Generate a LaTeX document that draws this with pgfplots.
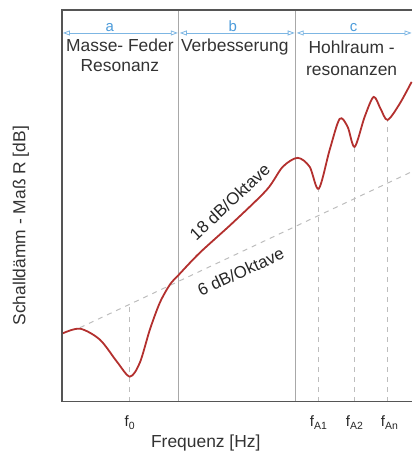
\documentclass[border=0pt]{standalone}
\usepackage{fontspec}
\setmainfont{Liberation Sans}
\usepackage{pgfplots}
\pgfplotsset{compat=1.18}
\usetikzlibrary{arrows.meta}

\definecolor{curvered}{HTML}{B3302E}
\definecolor{framegray}{HTML}{555555}
\definecolor{sepgray}{HTML}{A8A8A8}
\definecolor{dashgray}{HTML}{BDBDBD}
\definecolor{arrowblue}{HTML}{7DB6E3}
\definecolor{letterblue}{HTML}{4C9BDA}

\begin{document}
\begin{tikzpicture}
\begin{axis}[
    scale only axis,
    width=350bp, height=392bp,
    xmin=62, xmax=412,
    ymin=52, ymax=444,
    axis line style={draw=none},
    ytick=\empty,
    xtick={130,319,355,390},
    xticklabels={f\textsubscript{0}, f\textsubscript{A1}, f\textsubscript{A2}, f\textsubscript{An}},
    major tick length=0pt,
    xticklabel style={anchor=center, yshift=-21bp, font=\fontsize{15}{15}\selectfont, text=black!85},
    clip=false,
]
% picture size
\path (axis cs:0,0) rectangle (axis cs:412,454);

% section separators
\draw[sepgray, line width=0.8bp] (axis cs:179,52) -- (axis cs:179,444);
\draw[sepgray, line width=0.8bp] (axis cs:296,52) -- (axis cs:296,444);

% 6 dB/Oktave reference line
\addplot[dashgray, line width=1bp, dash pattern=on 5bp off 5bp] coordinates {
    (80,126) (412,282)
};

% resonance markers
\draw[dashgray, line width=1bp, dash pattern=on 5bp off 5bp] (axis cs:130,52) -- (axis cs:130,149);
\draw[dashgray, line width=1bp, dash pattern=on 5bp off 5bp] (axis cs:319,52) -- (axis cs:319,265);
\draw[dashgray, line width=1bp, dash pattern=on 5bp off 5bp] (axis cs:355,52) -- (axis cs:355,307);
\draw[dashgray, line width=1bp, dash pattern=on 5bp off 5bp] (axis cs:388,52) -- (axis cs:388,334);

% R curve
\addplot[curvered, line width=1.8bp, smooth, tension=0.5] coordinates {
    (62,120) (80,125) (100,114) (117,92) (130,77) (140,91) (150,124)
    (160,151) (170,169) (179,179) (200,201) (233,231) (267,264)
    (283,287) (298,296) (310,287) (319,265) (330,304) (340,335)
    (348,327) (355,307) (365,337) (374,357) (381,345) (388,334)
    (400,350) (412,372)
};

% frame (no right spine)
\draw[framegray, line width=1.6bp] (axis cs:412,444) -- (axis cs:62,444) -- (axis cs:62,52) -- (axis cs:412,52);

% section arrows
\draw[arrowblue, line width=0.8bp, {Triangle[open,length=7bp,width=5bp]}-{Triangle[open,length=7bp,width=5bp]}] (axis cs:63,421) -- (axis cs:178,421);
\draw[arrowblue, line width=0.8bp, {Triangle[open,length=7bp,width=5bp]}-{Triangle[open,length=7bp,width=5bp]}] (axis cs:180,421) -- (axis cs:295,421);
\draw[arrowblue, line width=0.8bp, {Triangle[open,length=7bp,width=5bp]}-{Triangle[open,length=7bp,width=5bp]}] (axis cs:297,421) -- (axis cs:412,421);
\node[anchor=south, text=letterblue, font=\fontsize{15}{15}\selectfont, inner sep=1bp] at (axis cs:110,421) {a};
\node[anchor=south, text=letterblue, font=\fontsize{15}{15}\selectfont, inner sep=1bp] at (axis cs:233,421) {b};
\node[anchor=south, text=letterblue, font=\fontsize{15}{15}\selectfont, inner sep=1bp] at (axis cs:354,421) {c};

% section titles
\node[align=center, anchor=north, font=\fontsize{17.5}{20}\selectfont, text=black!80, inner sep=0pt] at (axis cs:120,415) {Masse- Feder\\Resonanz};
\node[anchor=north, font=\fontsize{17.5}{20}\selectfont, text=black!80, inner sep=0pt] at (axis cs:235,415) {Verbesserung};
\node[align=center, anchor=north, font=\fontsize{17.5}{22}\selectfont, text=black!80, inner sep=0pt] at (axis cs:352,413) {Hohlraum -\\resonanzen};

% slope labels
\node[rotate=43, inner sep=0pt, font=\fontsize{17}{17}\selectfont, text=black!85] at (axis cs:230,252) {18 dB/Oktave};
\node[rotate=25, inner sep=0pt, font=\fontsize{17}{17}\selectfont, text=black!85] at (axis cs:241,182) {6 dB/Oktave};

% axis labels
\node[font=\fontsize{17.5}{17.5}\selectfont, text=black!80] at (axis cs:206,11) {Frequenz [Hz]};
\node[rotate=90, font=\fontsize{17.5}{17.5}\selectfont, text=black!80] at (axis cs:21,228) {Schalldämm - Maß R [dB]};
\end{axis}
\end{tikzpicture}
\end{document}
